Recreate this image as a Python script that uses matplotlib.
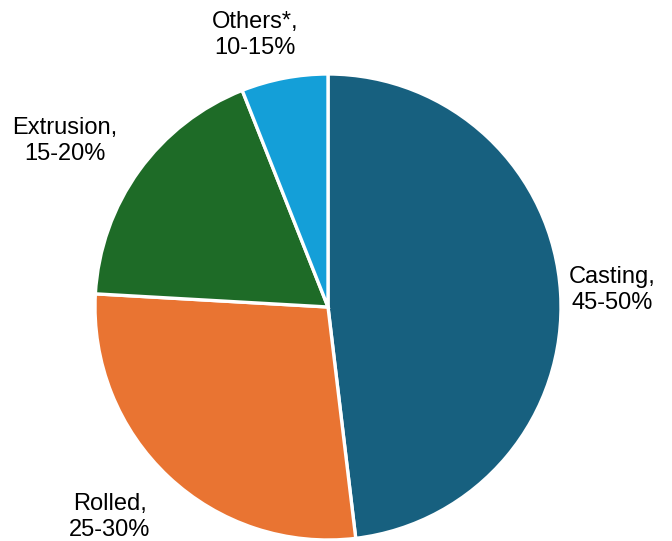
import matplotlib
matplotlib.use("Agg")
import matplotlib.pyplot as plt

# slice data (percent of the circle)
names = ["Casting", "Rolled", "Extrusion", "Others*"]
shares = [48.1, 27.8, 18.1, 6.0]
ranges = ["45-50%", "25-30%", "15-20%", "10-15%"]
colors = ["#17607f", "#e97432", "#1e6b27", "#149fd8"]

plt.rcParams['font.family'] = ['Liberation Sans', 'DejaVu Sans']

fig = plt.figure(figsize=(6.72, 5.41), dpi=100)
ax = fig.add_axes([0, 0, 1, 1])

labels = [f"{n},\n{r}" for n, r in zip(names, ranges)]
wedges, texts = ax.pie(shares, colors=colors, startangle=90, counterclock=False,
                       labels=labels, labeldistance=1.25,
                       wedgeprops=dict(edgecolor="white", linewidth=2.4),
                       textprops=dict(fontsize=17, color="black"))

# nudge labels to where they sit in the original
label_pos = [(1.219, 0.073), (-0.936, -0.901), (-1.129, 0.712), (-0.313, 1.167)]
for t, p in zip(texts, label_pos):
    t.set_position(p)
    t.set_horizontalalignment("center")
    t.set_verticalalignment("center")
    t.set_linespacing(1.2)

ax.set_aspect("equal")
ax.set_xlim(-328 / 233, (672 - 328) / 233)
ax.set_ylim(-234 / 233, 307 / 233)
ax.axis("off")

fig.savefig("out.png", dpi=100)
